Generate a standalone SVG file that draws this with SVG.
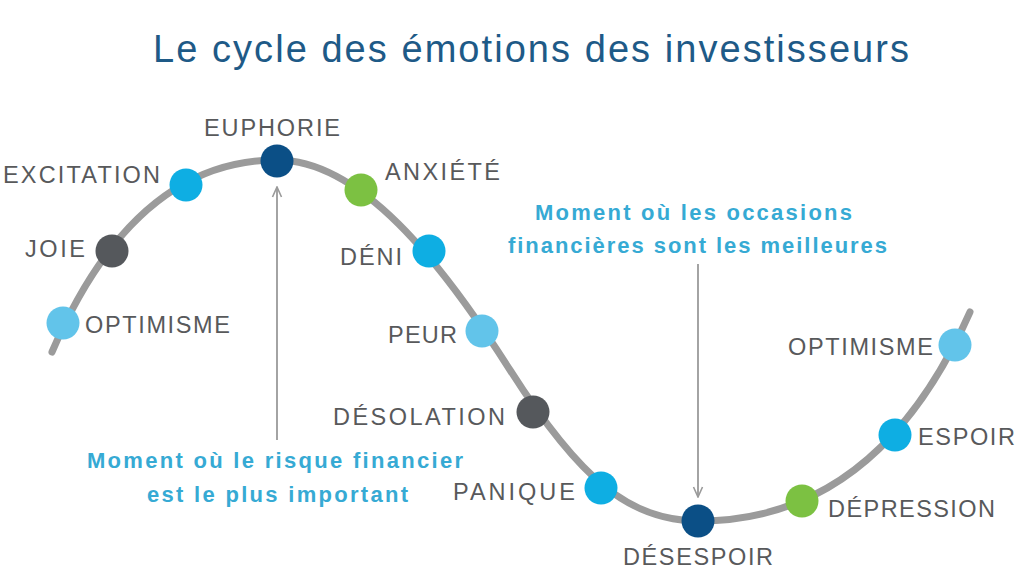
<svg xmlns="http://www.w3.org/2000/svg" width="1024" height="576" viewBox="0 0 1024 576">
  <style>
    .title { font-family: "Liberation Sans", Arial, sans-serif; font-size: 38px; fill: #1e5a87; }
    .lbl { font-family: "Liberation Sans", Arial, sans-serif; font-size: 23.5px; fill: #58595b; }
    .note { font-family: "Liberation Sans", Arial, sans-serif; font-size: 22px; font-weight: bold; fill: #36aad4; }
    .curve { fill: none; stroke: #9b9b9b; stroke-width: 7; stroke-linecap: round; }
    .arrow { fill: none; stroke: #9a9a9a; stroke-width: 1.8; }
    .light { fill: #62c4ea; }
    .cyan { fill: #0eaee3; }
    .navy { fill: #0b4f86; }
    .dark { fill: #55585c; }
    .green { fill: #7cc142; }
  </style>
  <defs>
    <marker id="ah" viewBox="0 0 12 12" refX="11" refY="6" markerWidth="12" markerHeight="12" markerUnits="userSpaceOnUse" orient="auto">
      <path d="M1,1.5 L11,6 L1,10.5" fill="none" stroke="#9a9a9a" stroke-width="1.6"/>
    </marker>
  </defs>
  <rect x="0" y="0" width="1024" height="576" fill="#ffffff"/>

  <text class="title" x="153" y="62" textLength="756" lengthAdjust="spacing">Le cycle des émotions des investisseurs</text>

  <g id="connectors">
    <path class="curve" d="M52,352 C100,240 170,160 277,160 C360,160 440,260 510,370 C580,480 630,521 699,521 C800,521 900,470 970,312"/>
    <line class="arrow" x1="277" y1="440" x2="277" y2="187" marker-end="url(#ah)"/>
    <line class="arrow" x1="698" y1="264" x2="698" y2="497" marker-end="url(#ah)"/>
  </g>

  <g id="n-optimisme1">
    <circle class="light" cx="63" cy="323" r="16.5"/>
    <text class="lbl" x="85" y="333" textLength="145" lengthAdjust="spacing">OPTIMISME</text>
  </g>
  <g id="n-joie">
    <circle class="dark" cx="112" cy="251" r="16.5"/>
    <text class="lbl" x="25" y="257" textLength="60" lengthAdjust="spacing">JOIE</text>
  </g>
  <g id="n-excitation">
    <circle class="cyan" cx="186" cy="185" r="16.5"/>
    <text class="lbl" x="3" y="183" textLength="157" lengthAdjust="spacing">EXCITATION</text>
  </g>
  <g id="n-euphorie">
    <circle class="navy" cx="277" cy="161" r="16.5"/>
    <text class="lbl" x="204" y="136" textLength="136" lengthAdjust="spacing">EUPHORIE</text>
  </g>
  <g id="n-anxiete">
    <circle class="green" cx="361" cy="190" r="16.5"/>
    <text class="lbl" x="385" y="180" textLength="115" lengthAdjust="spacing">ANXIÉTÉ</text>
  </g>
  <g id="n-deni">
    <circle class="cyan" cx="429" cy="251" r="16.5"/>
    <text class="lbl" x="340" y="265" textLength="62" lengthAdjust="spacing">DÉNI</text>
  </g>
  <g id="n-peur">
    <circle class="light" cx="482" cy="331" r="16.5"/>
    <text class="lbl" x="388" y="343" textLength="69" lengthAdjust="spacing">PEUR</text>
  </g>
  <g id="n-desolation">
    <circle class="dark" cx="533" cy="412" r="16.5"/>
    <text class="lbl" x="333" y="425" textLength="172" lengthAdjust="spacing">DÉSOLATION</text>
  </g>
  <g id="n-panique">
    <circle class="cyan" cx="601" cy="488" r="16.5"/>
    <text class="lbl" x="453" y="500" textLength="122" lengthAdjust="spacing">PANIQUE</text>
  </g>
  <g id="n-desespoir">
    <circle class="navy" cx="698" cy="521" r="16.5"/>
    <text class="lbl" x="623" y="565" textLength="150" lengthAdjust="spacing">DÉSESPOIR</text>
  </g>
  <g id="n-depression">
    <circle class="green" cx="802" cy="501" r="16.5"/>
    <text class="lbl" x="828" y="517" textLength="167" lengthAdjust="spacing">DÉPRESSION</text>
  </g>
  <g id="n-espoir">
    <circle class="cyan" cx="895" cy="435" r="16.5"/>
    <text class="lbl" x="918" y="445" textLength="97" lengthAdjust="spacing">ESPOIR</text>
  </g>
  <g id="n-optimisme2">
    <circle class="light" cx="955" cy="345" r="16.5"/>
    <text class="lbl" x="788" y="355" textLength="145" lengthAdjust="spacing">OPTIMISME</text>
  </g>

  <g id="note-risk">
    <text class="note" x="87" y="468" textLength="376" lengthAdjust="spacing">Moment où le risque financier</text>
    <text class="note" x="147" y="502" textLength="261" lengthAdjust="spacing">est le plus important</text>
  </g>
  <g id="note-opportunity">
    <text class="note" x="535" y="220" textLength="317" lengthAdjust="spacing">Moment où les occasions</text>
    <text class="note" x="508" y="253" textLength="379" lengthAdjust="spacing">financières sont les meilleures</text>
  </g>
</svg>
